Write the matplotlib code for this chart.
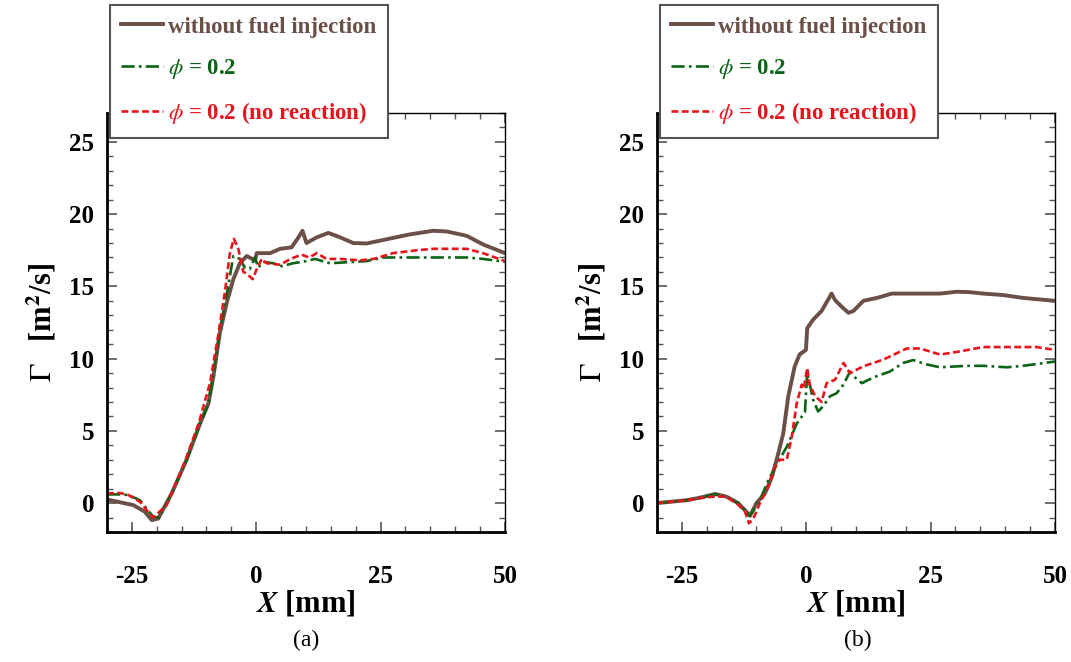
import matplotlib
matplotlib.use("Agg")
import matplotlib.pyplot as plt
from matplotlib.ticker import MultipleLocator

plt.rcParams['font.family'] = ['Liberation Serif', 'DejaVu Serif']
plt.rcParams['mathtext.fontset'] = 'stix'
plt.rcParams['axes.unicode_minus'] = False

# ---- panel (a) data ----
xa_base = [-30, -24.7, -22.4, -21, -19.7, -17, -14, -11.3, -9.6, -8.6, -7.3, -5.9, -4.6, -3.3, -1.9,
           -0.25, 0.1, 2.8, 4.8, 7.1, 8.5, 9.3, 10.1, 12.2, 14.5, 16.8, 19.5, 22.2, 26.2, 30.9,
           35.6, 38.3, 42.3, 45.6, 50]
ya_base = [0.25, -0.14, -0.6, -1.18, -1.07, 0.67, 3.0, 5.5, 6.9, 8.8, 11.8, 13.9, 15.5, 16.6, 17.1,
           16.8, 17.3, 17.3, 17.6, 17.7, 18.4, 18.85, 18.0, 18.4, 18.7, 18.4, 18.0, 17.97, 18.26, 18.6,
           18.85, 18.8, 18.5, 17.9, 17.3]

xa_phi = [-30, -27.4, -25.7, -23.4, -22, -20.7, -19.5, -17, -14, -11.3, -9.6, -8.6, -7.3, -5.9,
          -4.6, -3.3, -2.3, -1.3, -0.25, 0.4, 1.4, 3.4, 5.2, 7.4, 10.1, 11.8, 14.8, 22.2, 25.5,
          42.3, 45.6, 50]
ya_phi = [0.6, 0.6, 0.56, 0.2, -0.4, -0.95, -1.0, 0.67, 3.0, 5.5, 6.9, 8.9, 12.0, 14.5,
          17.1, 16.9, 16.3, 16.2, 17.0, 16.3, 16.7, 16.6, 16.4, 16.6, 16.75, 16.9, 16.6, 16.75, 17.0,
          17.0, 16.9, 16.7]

xa_nr = [-30, -27.4, -25.7, -23.4, -22, -20.7, -18, -14.2, -11.5, -9.3, -7.7, -6.3, -5.3, -4.5,
         -3.6, -2.6, -2.0, -0.7, 0.1, 1.1, 2.1, 4.8, 6.9, 9.1, 10.6, 12.2, 14.1, 16.8, 20.9, 23.6,
         27.5, 32.3, 35.6, 42.3, 45.6, 50]
ya_nr = [0.67, 0.7, 0.56, 0.1, -0.5, -1.0, -0.14, 3.0, 5.6, 8.3, 11.5, 14.6, 17.3, 18.3,
         17.6, 16.0, 15.9, 15.5, 16.2, 16.9, 16.6, 16.5, 16.9, 17.2, 17.0, 17.3, 16.9, 16.9, 16.8, 16.9,
         17.3, 17.5, 17.6, 17.6, 17.3, 16.75]

# ---- panel (b) data ----
xb_base = [-30, -24, -21.4, -18.3, -16, -13.7, -12.3, -11.3, -10, -8.3, -6.9, -5.6, -4.6, -3.6,
           -2.3, -1.3, -0.05, 0.2, 1.4, 3.1, 5.1, 5.8, 7.1, 8.5, 9.5, 11.5, 14.2, 17.2, 24.2, 26.9,
           30.2, 32.9, 35.6, 39.6, 43.6, 50]
yb_base = [0.0, 0.2, 0.37, 0.63, 0.44, 0.0, -0.49, -0.88, 0.0, 0.67, 1.8, 3.45, 4.84, 7.4,
           9.47, 10.3, 10.6, 12.1, 12.7, 13.3, 14.5, 14.05, 13.6, 13.17, 13.3, 14.0, 14.2, 14.5, 14.5, 14.5,
           14.63, 14.6, 14.5, 14.4, 14.2, 14.0]

xb_phi = [-30, -24, -21.4, -18.3, -16, -13.7, -12.3, -11.3, -9.3, -7.6, -5.6, -3.9, -1.9, -0.25,
          0.2, 1.4, 2.4, 3.4, 4.8, 6.1, 7.5, 8.8, 9.8, 11.2, 13.5, 16.8, 19.5, 21.5, 24.2, 26.9,
          32.3, 35.6, 40.3, 43.6, 50]
yb_phi = [0.0, 0.2, 0.37, 0.6, 0.44, 0.0, -0.49, -0.88, 0.2, 1.6, 2.87, 3.9, 5.5, 6.3,
          9.0, 7.15, 6.34, 6.7, 7.4, 7.6, 8.2, 9.1, 8.7, 8.3, 8.7, 9.1, 9.7, 9.9, 9.6, 9.4,
          9.5, 9.5, 9.4, 9.5, 9.8]

xb_nr = [-30, -24, -21.4, -18.3, -16, -13.7, -12.3, -11.5, -10.6, -9.3, -7.6, -6.3, -5.3, -3.9,
         -2.9, -1.9, -0.9, -0.5, 0.2, 0.7, 1.8, 3.1, 4.1, 5.8, 7.5, 8.8, 11.5, 15.5, 20.2, 22.9,
         26.9, 30.9, 35.6, 42.3, 46.3, 50]
yb_nr = [0.0, 0.2, 0.35, 0.46, 0.44, -0.1, -0.6, -1.4, -1.06, 0.0, 1.13, 2.5, 3.0, 3.0,
         4.6, 6.9, 8.2, 7.9, 9.35, 8.2, 7.4, 7.0, 8.3, 8.54, 9.7, 9.0, 9.47, 9.93, 10.7, 10.7,
         10.28, 10.5, 10.8, 10.8, 10.8, 10.6]

labels = ["without fuel injection", r"$\phi$ = 0.2", r"$\phi$ = 0.2 (no reaction)"]
xticks = [-25, 0, 25, 50]
yticks = [0, 5, 10, 15, 20, 25]

c_base = "#6b5048"
c_phi = "#0b6416"
c_nr = "#e8141c"

fig = plt.figure(figsize=(10.71, 6.62), dpi=100)
ax1 = fig.add_axes([0.0999, 0.1964, 0.3716, 0.6329])
ax2 = fig.add_axes([0.6134, 0.1964, 0.3716, 0.6329])

panels = [(ax1, xa_base, ya_base, xa_phi, ya_phi, xa_nr, ya_nr, 110 / 1071, "(a)", 0.286),
          (ax2, xb_base, yb_base, xb_phi, yb_phi, xb_nr, yb_nr, 660 / 1071, "(b)", 0.801)]

for ax, xb, yb, xp, yp, xn, yn, legx, cap, capx in panels:
    l1, = ax.plot(xb, yb, color=c_base, lw=2.8, label=labels[0])
    l2, = ax.plot(xp, yp, color=c_phi, lw=1.9, dashes=(5, 1.6, 1, 1.6), label=labels[1])
    l3, = ax.plot(xn, yn, color=c_nr, lw=1.9, dashes=(2.6, 1.3), label=labels[2])
    ax.set_xlim(-30, 50)
    ax.set_ylim(-2, 27)
    ax.set_xticks(xticks)
    ax.set_yticks(yticks)
    ax.xaxis.set_minor_locator(MultipleLocator(5))
    ax.yaxis.set_minor_locator(MultipleLocator(1))
    ax.tick_params(which='both', direction='in', top=True, right=True, color='#555555')
    ax.tick_params(which='major', length=7, width=1.2)
    ax.tick_params(which='minor', length=4, width=1)
    ax.tick_params(axis='x', which='major', pad=24, labelsize=18)
    ax.tick_params(axis='y', which='major', pad=9, labelsize=18)
    for t in ax.get_xticklabels() + ax.get_yticklabels():
        t.set_fontweight('bold')
    for s in ['left', 'bottom']:
        ax.spines[s].set_linewidth(2.0)
    for s in ['right', 'top']:
        ax.spines[s].set_linewidth(1.0)
    ax.set_xlabel(r"$\mathbfit{X}$ [mm]", fontsize=22, fontweight='bold', labelpad=0)
    ax.set_ylabel(r"$\Gamma$   [m$^{\mathbf{2}}$/s]", fontsize=22, fontweight='bold', labelpad=8)
    leg = fig.legend(handles=[l1, l2, l3], loc='upper left', bbox_to_anchor=(legx, 1 - 5 / 662),
                     prop={'weight': 'bold', 'size': 16.5}, fancybox=False, framealpha=1,
                     edgecolor='#555555', handlelength=1.8, labelspacing=0.85,
                     borderpad=0.5, handletextpad=0.25, borderaxespad=0)
    leg.get_frame().set_linewidth(1.5)
    for txt, col in zip(leg.get_texts(), [c_base, c_phi, c_nr]):
        txt.set_color(col)
    fig.text(capx, 1 - 640 / 662, cap, ha='center', va='center', fontsize=17)

fig.savefig("out.png", dpi=100)
